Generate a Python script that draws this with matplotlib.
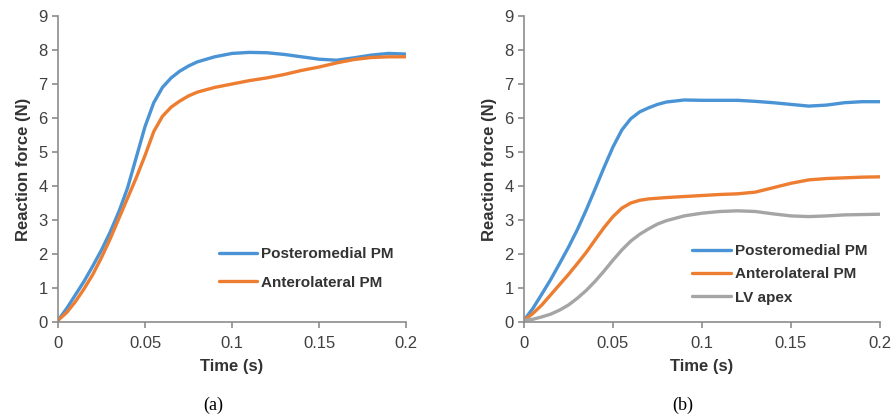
import matplotlib.pyplot as plt

plt.rcParams['font.family'] = ['Liberation Sans', 'DejaVu Sans']

# Panel (a)
t_a = [0, 0.005, 0.01, 0.015, 0.02, 0.025, 0.03, 0.035, 0.04, 0.045, 0.05, 0.055,
       0.06, 0.065, 0.07, 0.075, 0.08, 0.09, 0.1, 0.11, 0.12, 0.13, 0.14, 0.15,
       0.16, 0.17, 0.18, 0.19, 0.2]
post_a = [0.05, 0.4, 0.8, 1.2, 1.65, 2.12, 2.65, 3.25, 3.95, 4.85, 5.75, 6.45,
          6.9, 7.18, 7.38, 7.53, 7.65, 7.8, 7.9, 7.93, 7.92, 7.87, 7.8, 7.73,
          7.7, 7.77, 7.85, 7.9, 7.88]
ant_a = [0.05, 0.28, 0.6, 0.98, 1.4, 1.9, 2.45, 3.05, 3.65, 4.25, 4.9, 5.6,
         6.05, 6.32, 6.5, 6.65, 6.76, 6.9, 7.0, 7.1, 7.18, 7.28, 7.4, 7.5,
         7.62, 7.72, 7.78, 7.8, 7.8]

# Panel (b)
t_b = [0, 0.005, 0.01, 0.015, 0.02, 0.025, 0.03, 0.035, 0.04, 0.045, 0.05, 0.055,
       0.06, 0.065, 0.07, 0.075, 0.08, 0.09, 0.1, 0.11, 0.12, 0.13, 0.14, 0.15,
       0.16, 0.17, 0.18, 0.19, 0.2]
post_b = [0.05, 0.4, 0.82, 1.25, 1.72, 2.2, 2.72, 3.3, 3.92, 4.55, 5.15, 5.65,
          5.98, 6.18, 6.3, 6.4, 6.47, 6.53, 6.52, 6.52, 6.52, 6.49, 6.45, 6.4,
          6.35, 6.38, 6.45, 6.48, 6.48]
ant_b = [0.05, 0.25, 0.5, 0.8, 1.1, 1.4, 1.72, 2.05, 2.42, 2.78, 3.1, 3.35,
         3.5, 3.58, 3.62, 3.64, 3.66, 3.69, 3.72, 3.75, 3.77, 3.82, 3.95, 4.08,
         4.18, 4.22, 4.24, 4.26, 4.27]
apex_b = [0.05, 0.08, 0.15, 0.23, 0.35, 0.5, 0.7, 0.93, 1.2, 1.5, 1.82, 2.12,
          2.38, 2.58, 2.74, 2.88, 2.98, 3.12, 3.2, 3.25, 3.27, 3.25, 3.18, 3.12,
          3.1, 3.12, 3.15, 3.16, 3.17]

x_ticks = [0, 0.05, 0.1, 0.15, 0.2]
x_labels = ['0', '0.05', '0.1', '0.15', '0.2']
y_ticks = list(range(10))

BLUE = '#4a94d6'
ORANGE = '#ed7d31'
GRAY = '#a5a5a5'

fig = plt.figure(figsize=(8.93, 4.16), dpi=100)
ax1 = fig.add_axes([0.065, 0.226, 0.3897, 0.7355])
ax2 = fig.add_axes([0.5868, 0.226, 0.3986, 0.7355])


def style(ax, spacing, anchor_y):
    ax.set_xlim(0, 0.2)
    ax.set_ylim(0, 9)
    ax.set_xticks(x_ticks)
    ax.set_xticklabels(x_labels)
    ax.set_yticks(y_ticks)
    for s in ['top', 'right']:
        ax.spines[s].set_visible(False)
    for s in ['left', 'bottom']:
        ax.spines[s].set_color('#8c8c8c')
        ax.spines[s].set_linewidth(1.2)
    ax.tick_params(colors='#8c8c8c', labelcolor='#404040', labelsize=12,
                   length=4, width=1.2)
    ax.tick_params(axis='x', pad=6)
    ax.set_xlabel('Time (s)', fontsize=12, fontweight='bold', color='#333333', labelpad=6)
    ax.set_ylabel('Reaction force (N)', fontsize=12, fontweight='bold', color='#333333', labelpad=5)
    leg = ax.legend(loc='lower right', frameon=False, handlelength=2.5,
                    handletextpad=0.3, labelspacing=spacing,
                    prop={'weight': 'bold', 'size': 11}, borderaxespad=0.4,
                    bbox_to_anchor=(1.0, anchor_y))
    for txt in leg.get_texts():
        txt.set_color('#333333')


ax1.plot(t_a, post_a, color=BLUE, lw=2.4, label='Posteromedial PM', solid_capstyle='round')
ax1.plot(t_a, ant_a, color=ORANGE, lw=2.4, label='Anterolateral PM', solid_capstyle='round')
style(ax1, 0.95, 0.066)

ax2.plot(t_b, post_b, color=BLUE, lw=2.4, label='Posteromedial PM', solid_capstyle='round')
ax2.plot(t_b, ant_b, color=ORANGE, lw=2.4, label='Anterolateral PM', solid_capstyle='round')
ax2.plot(t_b, apex_b, color=GRAY, lw=2.4, label='LV apex', solid_capstyle='round')
style(ax2, 0.6, 0.017)

fig.text(0.2385, 0.015, '(a)', family='Liberation Serif', fontsize=13, ha='center')
fig.text(0.7645, 0.015, '(b)', family='Liberation Serif', fontsize=13, ha='center')

fig.savefig('out.png', dpi=100)
